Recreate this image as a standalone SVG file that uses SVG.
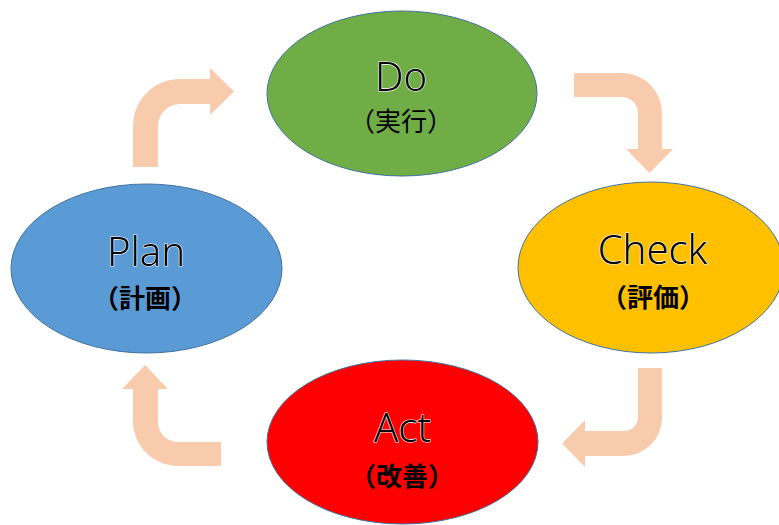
<svg xmlns="http://www.w3.org/2000/svg" width="779" height="525" viewBox="0 0 779 525">
<style>
.node ellipse{stroke:#41719C;stroke-width:1}
.main{font-family:"Noto Sans","Open Sans","Liberation Sans",sans-serif;font-weight:300;font-size:40px;fill:#000;stroke:#fff;stroke-width:1.2;paint-order:stroke;text-anchor:middle}
.sub{font-family:"Noto Sans CJK JP",sans-serif;font-size:26px;fill:#000;text-anchor:middle}
.b{font-weight:bold}
.arrow{fill:#F8CBAD}
</style>
<rect width="779" height="525" fill="#fff"/>
<g id="connectors">
<path class="arrow" d="M133,167 V126 A47,47 0 0 1 180,79 H210 V68 L234,91.5 L210,115 V104 H180 A22,22 0 0 0 158,126 V167 Z"/>
<path class="arrow" d="M574,73 H622 A40,40 0 0 1 662,113 V149 H673 L649.5,173 L626,149 H638 V113 A16,16 0 0 0 622,97 H574 Z"/>
<path class="arrow" d="M638,368 H662 V418 A38,38 0 0 1 624,456 H585 V467 L562,443.5 L585,420 V431 H624 A14,14 0 0 0 638,417 Z"/>
<path class="arrow" d="M221,442 H178 A20,20 0 0 1 158,422 V389 H168 L145,365 L122,389 H133 V421 A45,45 0 0 0 178,466 H221 Z"/>
</g>
<g id="do" class="node">
<ellipse cx="402" cy="93.5" rx="135" ry="82.5" fill="#70AD47"/>
<text class="main" x="401" y="91">Do</text>
<text class="sub" x="401" y="131">（実行）</text>
</g>
<g id="check" class="node">
<ellipse cx="651" cy="267.5" rx="133" ry="85.5" fill="#FFC000"/>
<text class="main" x="652.5" y="264">Check</text>
<text class="sub b" x="653" y="307">（評価）</text>
</g>
<g id="plan" class="node">
<ellipse cx="146.5" cy="268.5" rx="135.5" ry="84.5" fill="#5B9BD5"/>
<text class="main" x="146" y="266">Plan</text>
<text class="sub b" x="145" y="308">（計画）</text>
</g>
<g id="act" class="node">
<ellipse cx="402.5" cy="442" rx="135.5" ry="82" fill="#FF0000"/>
<text class="main" x="402.5" y="442">Act</text>
<text class="sub b" x="402" y="486">（改善）</text>
</g>
</svg>
